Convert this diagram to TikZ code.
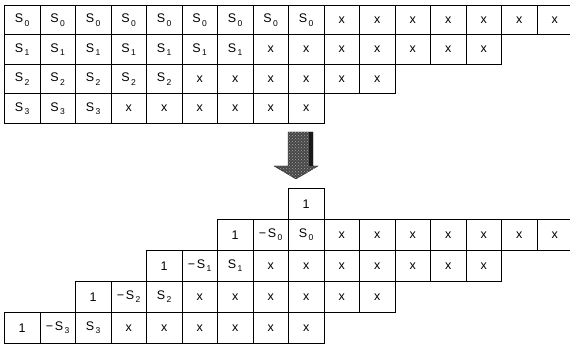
\documentclass[tikz,border=0pt]{standalone}
\usepackage{fontspec}
\setmainfont{Liberation Sans}
\usetikzlibrary{patterns}
\newcommand\Sb[1]{S\kern1.5pt\raisebox{-0.5ex}{\fontsize{8.5}{9}\selectfont #1}}
\begin{document}
\begin{tikzpicture}[x=1pt,y=-1pt,
  cell/.style={draw, line width=0.8pt, minimum width=35.5pt, minimum height=#1,
    inner sep=0pt, anchor=north west, font=\fontsize{12.5}{13}\selectfont},
  bigarrow/.style={fill=black!72, draw=black!85, line width=0.4pt}
]
\useasboundingbox (0,0) rectangle (570,344);
% upper table
\foreach \r/\ns/\nt in {0/9/16,1/7/14,2/5/11,3/3/9} {
  \foreach \c in {1,...,\nt} {
    \pgfmathtruncatemacro\cc{\c-1}
    \ifnum\c>\ns \def\txt{x}\else\def\txt{\Sb{\r}}\fi
    \node[cell=29.5pt] (t\r-\cc) at ({4+35.5*\cc},{5+29.5*\r}) {\txt};
  }
}
% arrow
\path[bigarrow] (288,132) -- (313,132) -- (313,166) -- (318,166) -- (296,179)
  -- (274,166) -- (288,166) -- cycle;
\path[pattern=crosshatch dots, pattern color=black!35] (288,132) -- (313,132) -- (313,166) -- (318,166) -- (296,179)
  -- (274,166) -- (288,166) -- cycle;
\fill[black!90] (309,132) rectangle (313,166);
% lower table
\foreach \r/\s/\e in {0/6/15,1/4/13,2/2/10,3/0/8} {
  \foreach \c in {\s,...,\e} {
    \pgfmathtruncatemacro\k{\c-\s}
    \ifcase\k \def\txt{1}\or \def\txt{−\kern1.5pt\Sb{\r}}\or \def\txt{\Sb{\r}}\else \def\txt{x}\fi
    \node[cell=31pt] (b\r-\c) at ({4+35.5*\c},{219+31*\r}) {\txt};
  }
}
\node[cell=31pt] (btop) at ({4+35.5*8},188) {1};
\end{tikzpicture}
\end{document}
